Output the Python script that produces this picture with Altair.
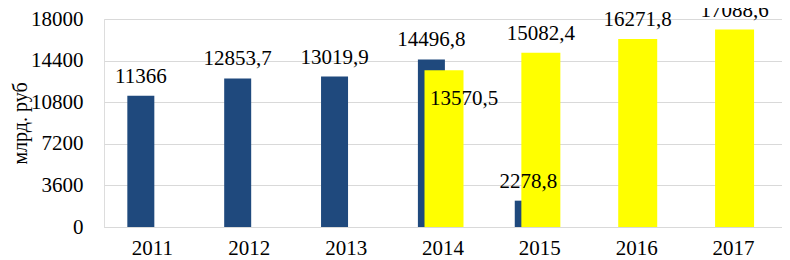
import altair as alt
import pandas as pd

years = ["2011", "2012", "2013", "2014", "2015", "2016", "2017"]
blue_years = ["2011", "2012", "2013", "2014", "2015"]
blue_values = [11366, 12853.7, 13019.9, 14496.8, 2278.8]
yellow_years = ["2014", "2015", "2016", "2017"]
yellow_values = [13570.5, 15082.4, 16271.8, 17088.6]
y_ticks = [0, 3600, 7200, 10800, 14400, 18000]


def fmt(v):
    s = ("%.1f" % v).rstrip("0").rstrip(".")
    return s.replace(".", ",")


blue = pd.DataFrame({"year": blue_years, "value": blue_values,
                     "label": [fmt(v) for v in blue_values]})
yellow = pd.DataFrame({"year": yellow_years, "value": yellow_values,
                       "label": [fmt(v) for v in yellow_values]})

FONT = "Times New Roman, Liberation Serif, serif"
FS = 21
x = alt.X("year:N", scale=alt.Scale(domain=years, paddingInner=0, paddingOuter=0),
          axis=alt.Axis(title=None, labelAngle=0, labelFont=FONT, labelFontSize=FS,
                        labelColor="#000000", ticks=False, domainColor="#d9d9d9",
                        labelPadding=10, grid=False))
y = alt.Y("value:Q", scale=alt.Scale(domain=[0, 18000], nice=False),
          axis=alt.Axis(title="млрд. руб", values=y_ticks, format="d", labelFont=FONT,
                        labelFontSize=FS, labelColor="#000000", titleFont=FONT,
                        titleFontSize=20, titleFontWeight="normal", titleColor="#000000",
                        titlePadding=0, ticks=False, domain=False, gridColor="#d9d9d9",
                        labelPadding=21))

blue_bar = alt.Chart(blue).mark_bar(size=27, xOffset=-11.6, color="#1f497d").encode(x=x, y=y)
yellow_bar = alt.Chart(yellow).mark_bar(size=39, xOffset=1, color="#ffff00").encode(x=x, y=y)

blue_text = alt.Chart(blue).mark_text(font=FONT, fontSize=FS, baseline="alphabetic",
                                      xOffset=-11.6, dy=-13, color="#000000").encode(
    x=x, y=y, text="label:N")
yellow_text = alt.Chart(yellow).transform_filter(alt.datum.year != "2014").mark_text(
    font=FONT, fontSize=FS, baseline="alphabetic", xOffset=1, dy=-13, color="#000000").encode(
    x=x, y=y, text="label:N")
yellow_text_2014 = alt.Chart(yellow).transform_filter(alt.datum.year == "2014").mark_text(
    font=FONT, fontSize=FS, baseline="alphabetic", xOffset=21, dy=35, color="#000000").encode(
    x=x, y=y, text="label:N")

chart = alt.layer(blue_bar, yellow_bar, blue_text, yellow_text, yellow_text_2014).properties(
    width=678, height=208,
    autosize=alt.AutoSizeParams(type="none"),
    padding={"left": 96, "top": 11, "right": 0, "bottom": 32},
).configure_view(stroke=None).configure(background="#ffffff")

chart.save("out.html", embed_options={"renderer": "svg", "actions": False})
